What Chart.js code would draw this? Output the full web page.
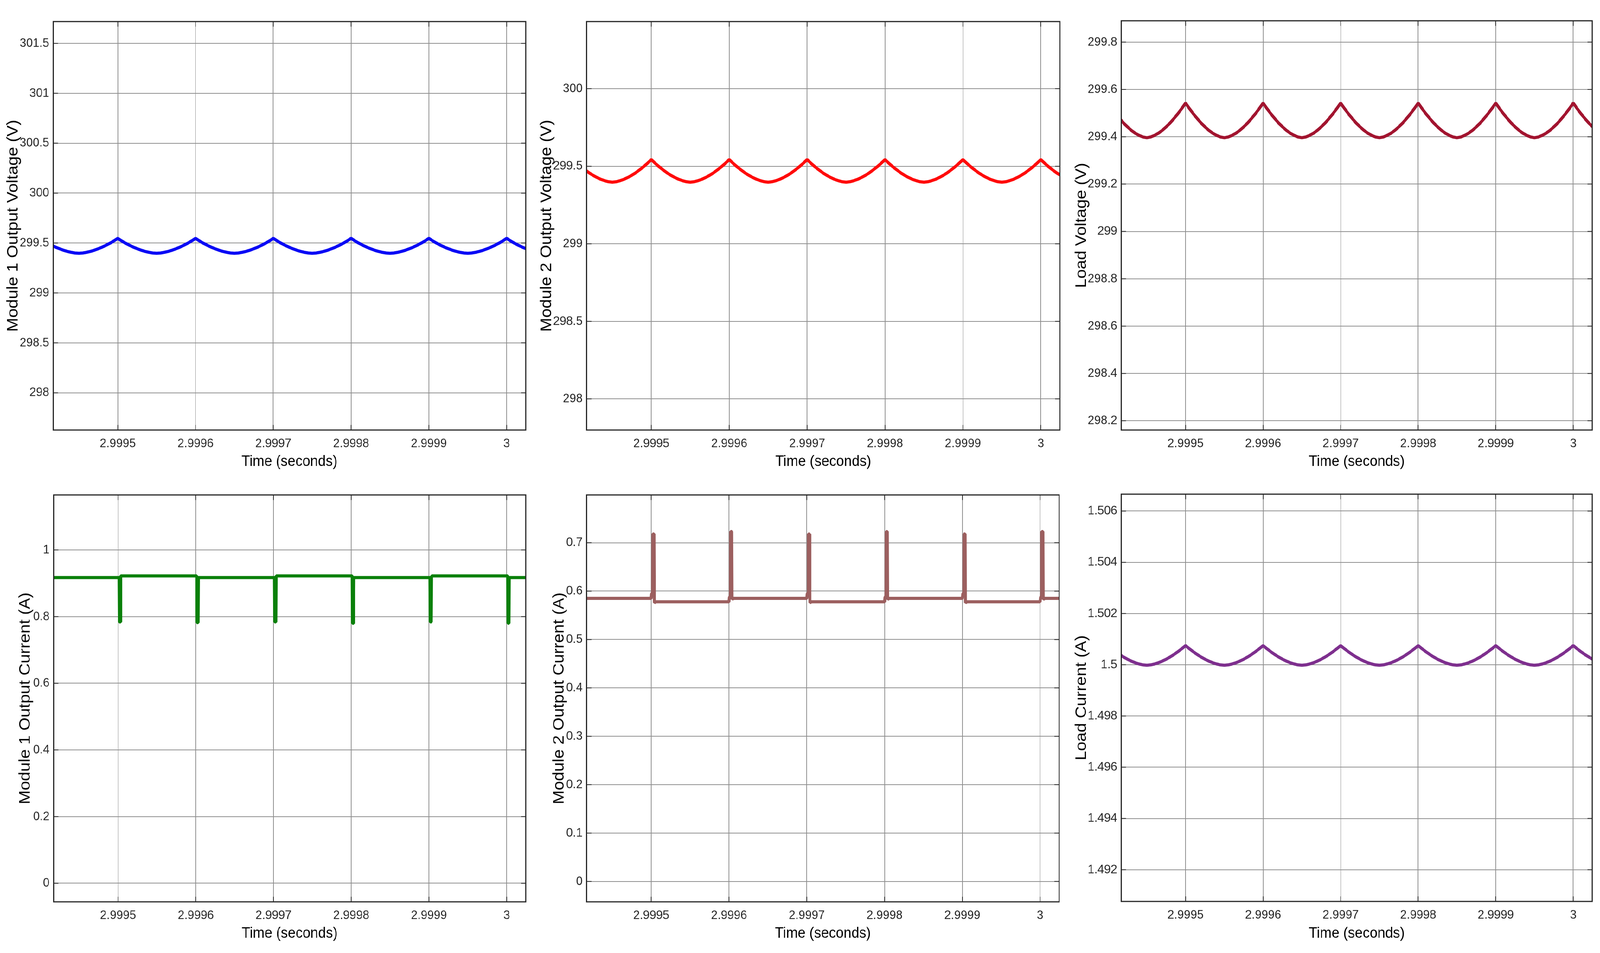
<!DOCTYPE html>
<html>
<head>
<meta charset="utf-8">
<script src="https://cdn.jsdelivr.net/npm/chart.js@4.4.1/dist/chart.umd.min.js"></script>
<style>
  html, body { margin: 0; padding: 0; background: #ffffff; overflow: hidden; }
  #wrap { width: 4346px; height: 2440px; position: absolute; left: 0; top: 0; transform-origin: 0 0; }
  canvas { position: absolute; }
</style>
</head>
<body>
<div id="wrap">
<canvas id="c1"></canvas>
<canvas id="c2"></canvas>
<canvas id="c3"></canvas>
<canvas id="c4"></canvas>
<canvas id="c5"></canvas>
<canvas id="c6"></canvas>
</div>
<script>
// ---------------- DATA ----------------
const timeV = [
  2.999415, 2.99942, 2.999425, 2.99943, 2.999435, 2.99944, 2.999445, 2.99945, 2.999455, 2.99946, 2.999465, 2.99947, 2.999475, 2.99948, 2.999485, 2.99949, 2.999495,
  2.9995, 2.999505, 2.99951, 2.999515, 2.99952, 2.999525, 2.99953, 2.999535, 2.99954, 2.999545, 2.99955, 2.999555, 2.99956, 2.999565, 2.99957, 2.999575, 2.99958, 2.999585, 2.99959, 2.999595,
  2.9996, 2.999605, 2.99961, 2.999615, 2.99962, 2.999625, 2.99963, 2.999635, 2.99964, 2.999645, 2.99965, 2.999655, 2.99966, 2.999665, 2.99967, 2.999675, 2.99968, 2.999685, 2.99969, 2.999695,
  2.9997, 2.999705, 2.99971, 2.999715, 2.99972, 2.999725, 2.99973, 2.999735, 2.99974, 2.999745, 2.99975, 2.999755, 2.99976, 2.999765, 2.99977, 2.999775, 2.99978, 2.999785, 2.99979, 2.999795,
  2.9998, 2.999805, 2.99981, 2.999815, 2.99982, 2.999825, 2.99983, 2.999835, 2.99984, 2.999845, 2.99985, 2.999855, 2.99986, 2.999865, 2.99987, 2.999875, 2.99988, 2.999885, 2.99989, 2.999895,
  2.9999, 2.999905, 2.99991, 2.999915, 2.99992, 2.999925, 2.99993, 2.999935, 2.99994, 2.999945, 2.99995, 2.999955, 2.99996, 2.999965, 2.99997, 2.999975, 2.99998, 2.999985, 2.99999, 2.999995,
  3.0, 3.000005, 3.00001, 3.000015, 3.00002, 3.000025, 3.00003
];

const module1Voltage = [
  299.478, 299.459, 299.443, 299.428, 299.416, 299.407, 299.400, 299.397, 299.400, 299.407, 299.416, 299.428, 299.443, 299.459, 299.478, 299.498, 299.521,
  299.547, 299.521, 299.498, 299.478, 299.459, 299.443, 299.428, 299.416, 299.407, 299.400, 299.397, 299.400, 299.407, 299.416, 299.428, 299.443, 299.459, 299.478, 299.498, 299.521,
  299.547, 299.521, 299.498, 299.478, 299.459, 299.443, 299.428, 299.416, 299.407, 299.400, 299.397, 299.400, 299.407, 299.416, 299.428, 299.443, 299.459, 299.478, 299.498, 299.521,
  299.547, 299.521, 299.498, 299.478, 299.459, 299.443, 299.428, 299.416, 299.407, 299.400, 299.397, 299.400, 299.407, 299.416, 299.428, 299.443, 299.459, 299.478, 299.498, 299.521,
  299.547, 299.521, 299.498, 299.478, 299.459, 299.443, 299.428, 299.416, 299.407, 299.400, 299.397, 299.400, 299.407, 299.416, 299.428, 299.443, 299.459, 299.478, 299.498, 299.521,
  299.547, 299.521, 299.498, 299.478, 299.459, 299.443, 299.428, 299.416, 299.407, 299.400, 299.397, 299.400, 299.407, 299.416, 299.428, 299.443, 299.459, 299.478, 299.498, 299.521,
  299.547, 299.521, 299.498, 299.478, 299.459, 299.443, 299.428
];

const module2Voltage = [
  299.477, 299.458, 299.442, 299.428, 299.416, 299.407, 299.400, 299.397, 299.400, 299.407, 299.416, 299.428, 299.442, 299.458, 299.477, 299.497, 299.519,
  299.543, 299.519, 299.497, 299.477, 299.458, 299.442, 299.428, 299.416, 299.407, 299.400, 299.397, 299.400, 299.407, 299.416, 299.428, 299.442, 299.458, 299.477, 299.497, 299.519,
  299.543, 299.519, 299.497, 299.477, 299.458, 299.442, 299.428, 299.416, 299.407, 299.400, 299.397, 299.400, 299.407, 299.416, 299.428, 299.442, 299.458, 299.477, 299.497, 299.519,
  299.543, 299.519, 299.497, 299.477, 299.458, 299.442, 299.428, 299.416, 299.407, 299.400, 299.397, 299.400, 299.407, 299.416, 299.428, 299.442, 299.458, 299.477, 299.497, 299.519,
  299.543, 299.519, 299.497, 299.477, 299.458, 299.442, 299.428, 299.416, 299.407, 299.400, 299.397, 299.400, 299.407, 299.416, 299.428, 299.442, 299.458, 299.477, 299.497, 299.519,
  299.543, 299.519, 299.497, 299.477, 299.458, 299.442, 299.428, 299.416, 299.407, 299.400, 299.397, 299.400, 299.407, 299.416, 299.428, 299.442, 299.458, 299.477, 299.497, 299.519,
  299.543, 299.519, 299.497, 299.477, 299.458, 299.442, 299.428
];

const loadVoltage = [
  299.477, 299.458, 299.442, 299.427, 299.415, 299.406, 299.399, 299.396, 299.399, 299.406, 299.415, 299.427, 299.442, 299.458, 299.477, 299.497, 299.519,
  299.543, 299.519, 299.497, 299.477, 299.458, 299.442, 299.427, 299.415, 299.406, 299.399, 299.396, 299.399, 299.406, 299.415, 299.427, 299.442, 299.458, 299.477, 299.497, 299.519,
  299.543, 299.519, 299.497, 299.477, 299.458, 299.442, 299.427, 299.415, 299.406, 299.399, 299.396, 299.399, 299.406, 299.415, 299.427, 299.442, 299.458, 299.477, 299.497, 299.519,
  299.543, 299.519, 299.497, 299.477, 299.458, 299.442, 299.427, 299.415, 299.406, 299.399, 299.396, 299.399, 299.406, 299.415, 299.427, 299.442, 299.458, 299.477, 299.497, 299.519,
  299.543, 299.519, 299.497, 299.477, 299.458, 299.442, 299.427, 299.415, 299.406, 299.399, 299.396, 299.399, 299.406, 299.415, 299.427, 299.442, 299.458, 299.477, 299.497, 299.519,
  299.543, 299.519, 299.497, 299.477, 299.458, 299.442, 299.427, 299.415, 299.406, 299.399, 299.396, 299.399, 299.406, 299.415, 299.427, 299.442, 299.458, 299.477, 299.497, 299.519,
  299.543, 299.519, 299.497, 299.477, 299.458, 299.442, 299.427
];

const loadCurrent = [
  1.500400, 1.500303, 1.500217, 1.500142, 1.500079, 1.500030, 1.499995, 1.499980, 1.499995, 1.500030, 1.500079, 1.500142, 1.500217, 1.500303, 1.500400, 1.500507, 1.500624,
  1.500750, 1.500624, 1.500507, 1.500400, 1.500303, 1.500217, 1.500142, 1.500079, 1.500030, 1.499995, 1.499980, 1.499995, 1.500030, 1.500079, 1.500142, 1.500217, 1.500303, 1.500400, 1.500507, 1.500624,
  1.500750, 1.500624, 1.500507, 1.500400, 1.500303, 1.500217, 1.500142, 1.500079, 1.500030, 1.499995, 1.499980, 1.499995, 1.500030, 1.500079, 1.500142, 1.500217, 1.500303, 1.500400, 1.500507, 1.500624,
  1.500750, 1.500624, 1.500507, 1.500400, 1.500303, 1.500217, 1.500142, 1.500079, 1.500030, 1.499995, 1.499980, 1.499995, 1.500030, 1.500079, 1.500142, 1.500217, 1.500303, 1.500400, 1.500507, 1.500624,
  1.500750, 1.500624, 1.500507, 1.500400, 1.500303, 1.500217, 1.500142, 1.500079, 1.500030, 1.499995, 1.499980, 1.499995, 1.500030, 1.500079, 1.500142, 1.500217, 1.500303, 1.500400, 1.500507, 1.500624,
  1.500750, 1.500624, 1.500507, 1.500400, 1.500303, 1.500217, 1.500142, 1.500079, 1.500030, 1.499995, 1.499980, 1.499995, 1.500030, 1.500079, 1.500142, 1.500217, 1.500303, 1.500400, 1.500507, 1.500624,
  1.500750, 1.500624, 1.500507, 1.500400, 1.500303, 1.500217, 1.500142
];

const timeI1 = [
  2.999415,
  2.9995012, 2.9995016, 2.999503, 2.9995034,
  2.9996012, 2.9996016, 2.999603, 2.9996034,
  2.9997012, 2.9997016, 2.999703, 2.9997034,
  2.9998012, 2.9998016, 2.999803, 2.9998034,
  2.9999012, 2.9999016, 2.999903, 2.9999034,
  3.0000012, 3.0000016, 3.000003, 3.0000034,
  3.00003
];
const module1Current = [
  0.917,
  0.917, 0.784, 0.784, 0.922,
  0.922, 0.782, 0.782, 0.917,
  0.917, 0.784, 0.784, 0.922,
  0.922, 0.780, 0.780, 0.917,
  0.917, 0.784, 0.784, 0.922,
  0.922, 0.780, 0.780, 0.917,
  0.917
];

const timeI2 = [
  2.999415,
  2.9995, 2.9995005, 2.9995018, 2.9995021, 2.9995036, 2.999504, 2.999506,
  2.9996, 2.9996005, 2.9996018, 2.9996021, 2.9996036, 2.999604, 2.999606,
  2.9997, 2.9997005, 2.9997018, 2.9997021, 2.9997036, 2.999704, 2.999706,
  2.9998, 2.9998005, 2.9998018, 2.9998021, 2.9998036, 2.999804, 2.999806,
  2.9999, 2.9999005, 2.9999018, 2.9999021, 2.9999036, 2.999904, 2.999906,
  3.0, 3.0000005, 3.0000018, 3.0000021, 3.0000036, 3.000004, 3.000006,
  3.00003
];
const module2Current = [
  0.585,
  0.585, 0.594, 0.597, 0.718, 0.718, 0.576, 0.578,
  0.578, 0.587, 0.590, 0.723, 0.723, 0.583, 0.585,
  0.585, 0.594, 0.597, 0.718, 0.718, 0.576, 0.578,
  0.578, 0.587, 0.590, 0.723, 0.723, 0.583, 0.585,
  0.585, 0.594, 0.597, 0.718, 0.718, 0.576, 0.578,
  0.578, 0.587, 0.590, 0.723, 0.723, 0.583, 0.585,
  0.585
];

const timeTicks = [2.9995, 2.9996, 2.9997, 2.9998, 2.9999, 3];
const timeLabels = ['2.9995', '2.9996', '2.9997', '2.9998', '2.9999', '3'];
const module1VoltageTicks = [298, 298.5, 299, 299.5, 300, 300.5, 301, 301.5];
const module2VoltageTicks = [298, 298.5, 299, 299.5, 300];
const loadVoltageTicks = [298.2, 298.4, 298.6, 298.8, 299, 299.2, 299.4, 299.6, 299.8];
const module1CurrentTicks = [0, 0.2, 0.4, 0.6, 0.8, 1];
const module2CurrentTicks = [0, 0.1, 0.2, 0.3, 0.4, 0.5, 0.6, 0.7];
const loadCurrentTicks = [1.492, 1.494, 1.496, 1.498, 1.5, 1.502, 1.504, 1.506];

const timeRange = [2.999417, 3.0000245];
const module1VoltageRange = [297.627, 301.718];
const module2VoltageRange = [297.799, 300.433];
const loadVoltageRange = [298.161, 299.890];
const module1CurrentRange = [-0.0557, 1.165];
const module2CurrentRange = [-0.0421, 0.7988];
const loadCurrentRange = [1.49076, 1.50666];

const xTitle = 'Time (seconds)';
const yTitles = ['Module 1 Output Voltage (V)', 'Module 2 Output Voltage (V)', 'Load Voltage (V)',
                 'Module 1 Output Current (A)', 'Module 2 Output Current (A)', 'Load Current (A)'];

// ---------------- LAYOUT / STYLE ----------------
const FONT = '"Liberation Sans", Arial, Helvetica, sans-serif';
const Y_TITLE_SIZE = 43, X_TITLE_SIZE = 38, TICK_SIZE = 32;
const PAD_TOP = 10, PAD_RIGHT = 12;

const panels = [
  { id: 'c1', L: 144,  T: 35,   R: 1428, B: 1101, ytc: 36,   xtc: 1183 },
  { id: 'c2', L: 1593, T: 35,   R: 2879, B: 1101, ytc: 1485, xtc: 1183 },
  { id: 'c3', L: 3045, T: 33,   R: 4325, B: 1101, ytc: 2938, xtc: 1183 },
  { id: 'c4', L: 145,  T: 1247, R: 1428, B: 2309, ytc: 69,   xtc: 2391 },
  { id: 'c5', L: 1593, T: 1247, R: 2877, B: 2309, ytc: 1519, xtc: 2391 },
  { id: 'c6', L: 3045, T: 1245, R: 4325, B: 2308, ytc: 2938, xtc: 2391 }
];

const series = [
  { t: timeV,  v: module1Voltage, ticks: module1VoltageTicks, range: module1VoltageRange, color: '#0a0af5' },
  { t: timeV,  v: module2Voltage, ticks: module2VoltageTicks, range: module2VoltageRange, color: '#ff0a0a' },
  { t: timeV,  v: loadVoltage,    ticks: loadVoltageTicks,    range: loadVoltageRange,    color: '#a2142f' },
  { t: timeI1, v: module1Current, ticks: module1CurrentTicks, range: module1CurrentRange, color: '#0a800a' },
  { t: timeI2, v: module2Current, ticks: module2CurrentTicks, range: module2CurrentRange, color: '#9c5f5f' },
  { t: timeV,  v: loadCurrent,    ticks: loadCurrentTicks,    range: loadCurrentRange,    color: '#7e2f8e' }
];

// fit the 4346x2440 design into whatever the viewport really is
const kx = (window.innerWidth || 4346) / 4346;
const ky = (window.innerHeight || 2440) / 2440;
document.getElementById('wrap').style.transform = 'scale(' + kx + ',' + ky + ')';
const DPR = Math.max(1, (window.devicePixelRatio || 1) * Math.max(kx, ky));

const framePlugin = {
  id: 'matlabFrame',
  afterDraw(chart) {
    const { ctx, chartArea: a, scales } = chart;
    const xs = scales.x, ys = scales.y;
    ctx.save();
    ctx.strokeStyle = '#262626';
    ctx.lineWidth = 2;
    const tl = 13;
    ctx.beginPath();
    xs.ticks.forEach(t => {
      const p = xs.getPixelForValue(t.value);
      ctx.moveTo(p, a.bottom); ctx.lineTo(p, a.bottom - tl);
      ctx.moveTo(p, a.top); ctx.lineTo(p, a.top + tl);
    });
    ys.ticks.forEach(t => {
      const p = ys.getPixelForValue(t.value);
      ctx.moveTo(a.left, p); ctx.lineTo(a.left + tl, p);
      ctx.moveTo(a.right, p); ctx.lineTo(a.right - tl, p);
    });
    ctx.stroke();
    ctx.lineWidth = 3;
    ctx.strokeRect(a.left, a.top, a.right - a.left, a.bottom - a.top);
    ctx.restore();
  }
};

panels.forEach((p, i) => {
  const s = series[i];
  const cl = p.ytc - Y_TITLE_SIZE / 2;
  const ct = p.T - PAD_TOP;
  const cw = p.R + PAD_RIGHT - cl;
  const cb = p.xtc + X_TITLE_SIZE / 2;
  const ch = cb - ct;
  const yW = p.L - cl;
  const xH = cb - p.B;
  const cv = document.getElementById(p.id);
  cv.style.left = cl + 'px';
  cv.style.top = ct + 'px';
  cv.style.width = cw + 'px'; cv.style.height = ch + 'px';
  cv.width = cw; cv.height = ch;

  const points = s.t.map((t, k) => ({ x: t, y: s.v[k] }));
  const tickLabelMap = new Map(timeTicks.map((v, k) => [v, timeLabels[k]]));

  new Chart(cv, {
    type: 'line',
    data: { datasets: [{
      data: points,
      borderColor: s.color,
      borderWidth: 8,
      pointRadius: 0,
      tension: 0,
      borderJoinStyle: 'bevel',
      borderCapStyle: 'butt',
      clip: 0,
      fill: false
    }]},
    options: {
      responsive: false,
      maintainAspectRatio: false,
      animation: false,
      devicePixelRatio: DPR,
      layout: { padding: { top: PAD_TOP, right: PAD_RIGHT, left: 0, bottom: 0 } },
      plugins: { legend: { display: false }, tooltip: { enabled: false } },
      scales: {
        x: {
          type: 'linear',
          min: timeRange[0], max: timeRange[1],
          afterBuildTicks: sc => { sc.ticks = timeTicks.map(v => ({ value: v })); },
          afterFit: sc => { sc.height = xH; },
          grid: { color: '#8f8f8f', lineWidth: 2, drawTicks: false },
          border: { display: false },
          ticks: {
            autoSkip: false, maxRotation: 0, minRotation: 0, padding: 16,
            color: '#262626',
            font: { family: FONT, size: TICK_SIZE, lineHeight: 1.2 },
            callback: v => tickLabelMap.has(v) ? tickLabelMap.get(v) : String(v)
          },
          title: {
            display: true, text: xTitle, color: '#000000', padding: 0,
            font: { family: FONT, size: X_TITLE_SIZE, lineHeight: 1 }
          }
        },
        y: {
          type: 'linear',
          min: s.range[0], max: s.range[1],
          afterBuildTicks: sc => { sc.ticks = s.ticks.map(v => ({ value: v })); },
          afterFit: sc => { sc.width = yW; },
          grid: { color: '#8f8f8f', lineWidth: 2, drawTicks: false },
          border: { display: false },
          ticks: {
            autoSkip: false, padding: 11,
            color: '#262626',
            font: { family: FONT, size: TICK_SIZE, lineHeight: 1.2 },
            callback: v => String(v)
          },
          title: {
            display: true, text: yTitles[i], color: '#000000', padding: 0,
            font: { family: FONT, size: Y_TITLE_SIZE, lineHeight: 1 }
          }
        }
      }
    },
    plugins: [framePlugin]
  });
});
</script>
</body>
</html>
